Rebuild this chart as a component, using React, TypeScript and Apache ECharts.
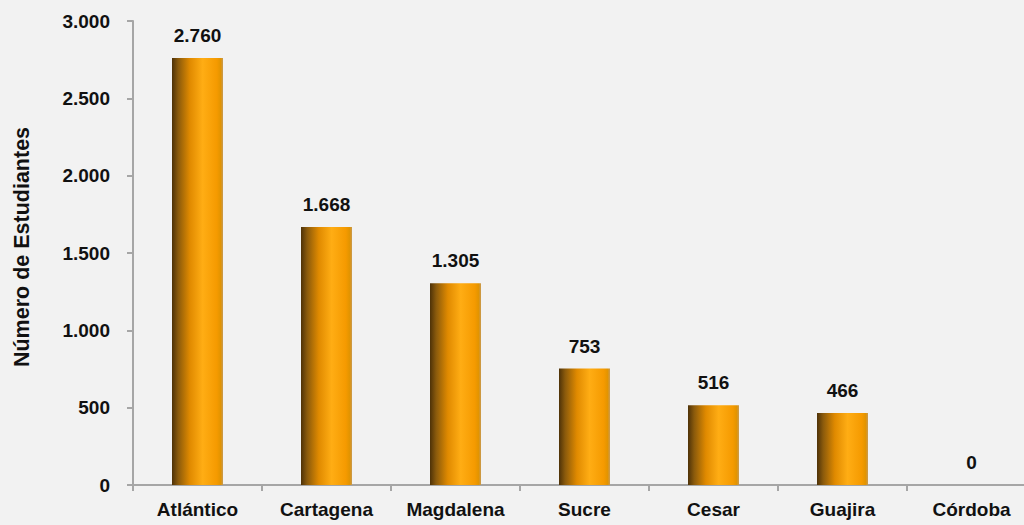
import React, { useEffect, useRef } from "react";
import * as echarts from "echarts";

const categories = ["Atlántico", "Cartagena", "Magdalena", "Sucre", "Cesar", "Guajira", "Córdoba"];
const students = [2760, 1668, 1305, 753, 516, 466, 0];
const yMax = 3000;
const yStep = 500;
const yAxisTitle = "Número de Estudiantes";

const FONT = "'Liberation Sans', Arial, sans-serif";

function fmt(v: number): string {
  return String(Math.round(v)).replace(/\B(?=(\d{3})+(?!\d))/g, ".");
}

export default function App() {
  const ref = useRef<HTMLDivElement>(null);
  useEffect(() => {
    if (!ref.current) return;
    const chart = echarts.init(ref.current, undefined, { renderer: "svg" });
    const barColor = new echarts.graphic.LinearGradient(0, 0, 1, 0, [
      { offset: 0, color: "#4e3208" },
      { offset: 0.12, color: "#8a5a0c" },
      { offset: 0.35, color: "#e08a00" },
      { offset: 0.6, color: "#ffad14" },
      { offset: 0.88, color: "#f59a00" },
      { offset: 0.95, color: "#e39400" },
      { offset: 1, color: "#c89a50" },
    ]);
    chart.setOption({
      animation: false,
      backgroundColor: "#f2f2f2",
      textStyle: { fontFamily: FONT },
      grid: { left: 133, right: 4, top: 21, bottom: 40, containLabel: false },
      xAxis: {
        type: "category",
        data: categories,
        axisLine: { show: true, lineStyle: { color: "#a6a6a6", width: 2 } },
        axisTick: { show: true, length: 6, lineStyle: { color: "#a6a6a6", width: 2 } },
        axisLabel: {
          color: "#111",
          fontFamily: FONT,
          fontWeight: "bold",
          fontSize: 19,
          margin: 15,
        },
      },
      yAxis: {
        type: "value",
        min: 0,
        max: yMax,
        interval: yStep,
        name: yAxisTitle,
        nameLocation: "middle",
        nameRotate: 90,
        nameGap: 100,
        nameTextStyle: {
          color: "#111",
          fontFamily: FONT,
          fontWeight: "bold",
          fontSize: 21.5,
          padding: [0, 0, 0, 12],
        },
        splitLine: { show: false },
        axisLine: { show: true, lineStyle: { color: "#a6a6a6", width: 2 } },
        axisTick: { show: true, length: 6, lineStyle: { color: "#a6a6a6", width: 2 } },
        axisLabel: {
          color: "#111",
          fontFamily: FONT,
          fontWeight: "bold",
          fontSize: 19,
          margin: 23,
          formatter: (v: number) => fmt(v),
        },
      },
      series: [
        {
          type: "bar",
          data: students,
          barWidth: 51,
          itemStyle: { color: barColor },
          label: {
            show: true,
            position: "top",
            distance: 13,
            color: "#111",
            fontFamily: FONT,
            fontWeight: "bold",
            fontSize: 19,
            formatter: (p: any) => fmt(p.value),
          },
        },
      ],
    });
    return () => chart.dispose();
  }, []);
  return (
    <div
      style={{
        position: "absolute",
        left: 0,
        top: 0,
        width: 1024,
        height: 525,
        overflow: "hidden",
        background: "#f2f2f2",
      }}
    >
      <div ref={ref} style={{ width: 1040, height: 525 }} />
    </div>
  );
}
